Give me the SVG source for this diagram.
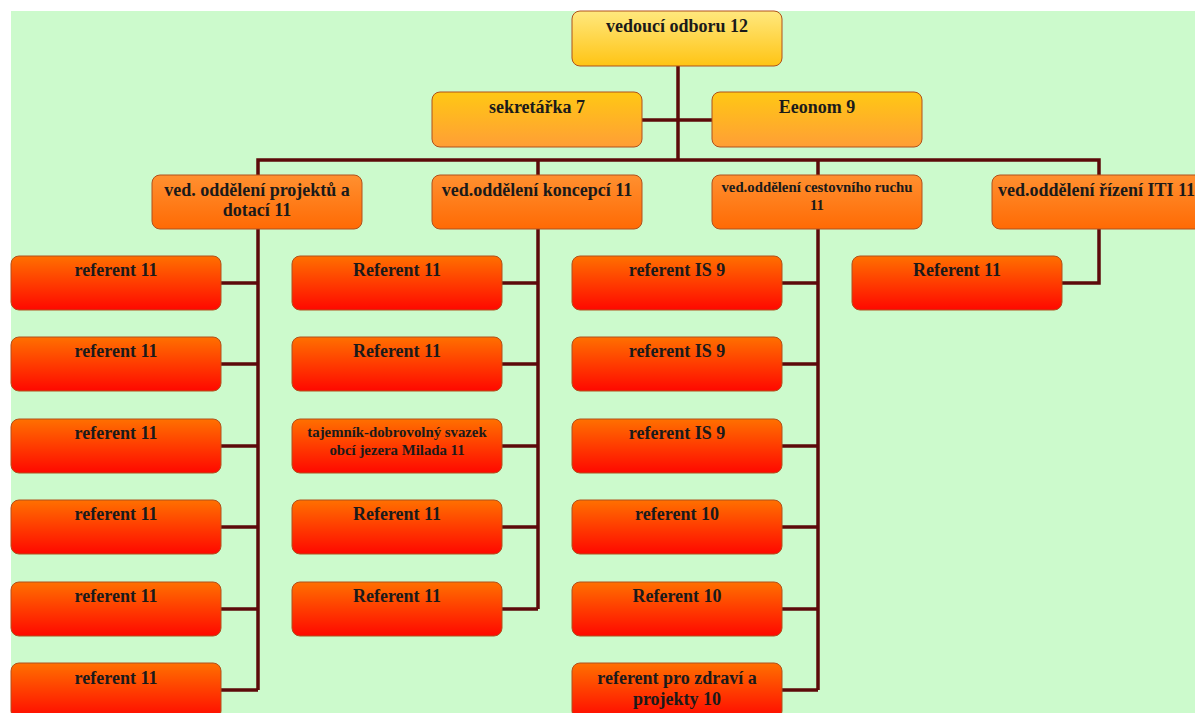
<svg xmlns="http://www.w3.org/2000/svg" width="1195" height="713" viewBox="0 0 1195 713">
<defs>
<linearGradient id="g0" x1="0" y1="0" x2="0" y2="1"><stop offset="0" stop-color="#FFE87E"/><stop offset="1" stop-color="#FFC414"/></linearGradient>
<linearGradient id="g1" x1="0" y1="0" x2="0" y2="1"><stop offset="0" stop-color="#FFC814"/><stop offset="1" stop-color="#FF9E36"/></linearGradient>
<linearGradient id="g2" x1="0" y1="0" x2="0" y2="1"><stop offset="0" stop-color="#FF9030"/><stop offset="1" stop-color="#FF6A04"/></linearGradient>
<linearGradient id="g3" x1="0" y1="0" x2="0" y2="1"><stop offset="0" stop-color="#FF7000"/><stop offset="1" stop-color="#FF0800"/></linearGradient>
</defs>
<style>
.b{stroke:#B0501C;stroke-width:1}
.t{font-family:"Liberation Serif","Times New Roman",serif;font-weight:bold;font-size:18px;fill:#1a1a1a;text-anchor:middle}
.s{font-size:14.8px}
.c{fill:none;stroke:#5C0A0A;stroke-width:3.5}
</style>
<rect x="0" y="0" width="1195" height="713" fill="#ffffff"/>
<rect x="11" y="11" width="1184" height="702" fill="#CCFACC"/>
<g id="connectors" class="c">
<path d="M678 66V160"/>
<path d="M642 120H712"/>
<path d="M258 175V160H1099V175"/>
<path d="M538 160V175M818 160V175"/>
<path d="M258 229V690"/>
<path d="M221 283H258M221 364H258M221 446H258M221 527H258M221 609H258M221 690H258"/>
<path d="M538 229V609"/>
<path d="M502 283H538M502 364H538M502 446H538M502 527H538M502 609H538"/>
<path d="M818 229V690"/>
<path d="M782 283H818M782 364H818M782 446H818M782 527H818M782 609H818M782 690H818"/>
<path d="M1099 229V283H1062"/>
</g>
<g id="n0"><rect class="b" x="572" y="11" width="210" height="55" rx="8" fill="url(#g0)"/><text class="t" x="677" y="32">vedoucí odboru 12</text></g>
<g id="n1"><rect class="b" x="432" y="92" width="210" height="55" rx="8" fill="url(#g1)"/><text class="t" x="537" y="113">sekretářka 7</text></g>
<g id="n2"><rect class="b" x="712" y="92" width="210" height="55" rx="8" fill="url(#g1)"/><text class="t" x="817" y="113">Eeonom 9</text></g>
<g id="n3"><rect class="b" x="152" y="175" width="210" height="54" rx="8" fill="url(#g2)"/><text class="t" x="257" y="196">ved. oddělení projektů a</text><text class="t" x="257" y="216">dotací 11</text></g>
<g id="n4"><rect class="b" x="432" y="175" width="210" height="54" rx="8" fill="url(#g2)"/><text class="t" x="537" y="196">ved.oddělení koncepcí 11</text></g>
<g id="n5"><rect class="b" x="712" y="175" width="210" height="54" rx="8" fill="url(#g2)"/><text class="t s" x="817" y="192">ved.oddělení cestovního ruchu</text><text class="t s" x="817" y="210">11</text></g>
<g id="n6"><rect class="b" x="992" y="175" width="212" height="54" rx="8" fill="url(#g2)"/><text class="t" x="998" y="196" style="text-anchor:start">ved.oddělení řízení ITI  11</text></g>
<g id="c1">
<g id="n7"><rect class="b" x="11" y="256" width="210" height="54" rx="8" fill="url(#g3)"/><text class="t" x="116" y="276">referent 11</text></g>
<g id="n8"><rect class="b" x="11" y="337" width="210" height="54" rx="8" fill="url(#g3)"/><text class="t" x="116" y="357">referent 11</text></g>
<g id="n9"><rect class="b" x="11" y="419" width="210" height="54" rx="8" fill="url(#g3)"/><text class="t" x="116" y="439">referent 11</text></g>
<g id="n10"><rect class="b" x="11" y="500" width="210" height="54" rx="8" fill="url(#g3)"/><text class="t" x="116" y="520">referent 11</text></g>
<g id="n11"><rect class="b" x="11" y="582" width="210" height="54" rx="8" fill="url(#g3)"/><text class="t" x="116" y="602">referent 11</text></g>
<g id="n12"><rect class="b" x="11" y="663" width="210" height="56" rx="8" fill="url(#g3)"/><text class="t" x="116" y="684">referent 11</text></g>
</g>
<g id="c2">
<g id="n13"><rect class="b" x="292" y="256" width="210" height="54" rx="8" fill="url(#g3)"/><text class="t" x="397" y="276">Referent 11</text></g>
<g id="n14"><rect class="b" x="292" y="337" width="210" height="54" rx="8" fill="url(#g3)"/><text class="t" x="397" y="357">Referent 11</text></g>
<g id="n15"><rect class="b" x="292" y="419" width="210" height="54" rx="8" fill="url(#g3)"/><text class="t s" x="397" y="437">tajemník-dobrovolný svazek</text><text class="t s" x="397" y="455">obcí jezera Milada 11</text></g>
<g id="n16"><rect class="b" x="292" y="500" width="210" height="54" rx="8" fill="url(#g3)"/><text class="t" x="397" y="520">Referent 11</text></g>
<g id="n17"><rect class="b" x="292" y="582" width="210" height="54" rx="8" fill="url(#g3)"/><text class="t" x="397" y="602">Referent 11</text></g>
</g>
<g id="c3">
<g id="n18"><rect class="b" x="572" y="256" width="210" height="54" rx="8" fill="url(#g3)"/><text class="t" x="677" y="276">referent IS 9</text></g>
<g id="n19"><rect class="b" x="572" y="337" width="210" height="54" rx="8" fill="url(#g3)"/><text class="t" x="677" y="357">referent IS 9</text></g>
<g id="n20"><rect class="b" x="572" y="419" width="210" height="54" rx="8" fill="url(#g3)"/><text class="t" x="677" y="439">referent IS 9</text></g>
<g id="n21"><rect class="b" x="572" y="500" width="210" height="54" rx="8" fill="url(#g3)"/><text class="t" x="677" y="520">referent 10</text></g>
<g id="n22"><rect class="b" x="572" y="582" width="210" height="54" rx="8" fill="url(#g3)"/><text class="t" x="677" y="602">Referent 10</text></g>
<g id="n23"><rect class="b" x="572" y="663" width="210" height="56" rx="8" fill="url(#g3)"/><text class="t" x="677" y="684">referent pro zdraví a</text><text class="t" x="677" y="705">projekty 10</text></g>
</g>
<g id="n24"><rect class="b" x="852" y="256" width="210" height="54" rx="8" fill="url(#g3)"/><text class="t" x="957" y="276">Referent  11</text></g>
</svg>
